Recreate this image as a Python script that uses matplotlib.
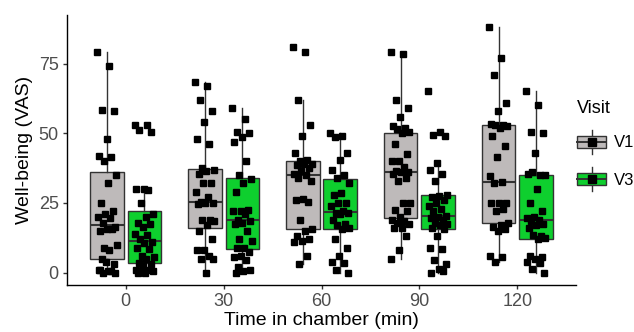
import numpy as np
import matplotlib.pyplot as plt
from matplotlib.legend_handler import HandlerBase
from matplotlib.lines import Line2D
from matplotlib.patches import Rectangle, Patch

plt.rcParams['font.family'] = ['Liberation Sans', 'DejaVu Sans']

times = ['0', '30', '60', '90', '120']
visits = ['V1', 'V3']
fills = {'V1': '#BEBABA', 'V3': '#0ECF2E'}
edge = '#333333'

# well-being scores, one list per time point
v1_t0 = [79, 74, 58.5, 58, 48, 42, 41.5, 40, 35, 32, 25, 22, 21, 20, 19.5, 18,
         16.5, 15.5, 15, 15.5, 9, 10, 8, 5, 3, 4, 1, 0.5, 0, 0, 0.5, 1]
v1_t30 = [68.5, 67, 62, 58, 54, 48, 46, 37.5, 37, 36.5, 35.5, 32, 32, 29, 27, 25.5,
          25, 25, 24.5, 19, 19, 18.5, 17, 15, 12, 8, 8, 6, 5, 5, 0]
v1_t60 = [81, 79, 62, 53, 49, 43, 40.5, 40, 39, 39, 38.5, 37.5, 36.5, 35.5, 35,
          34, 33, 26.5, 26, 25.5, 19, 15.5, 15, 13, 12, 11.5, 11, 6, 3]
v1_t90 = [79, 78.5, 62, 59, 56, 52.5, 52, 51.5, 50.5, 50, 46, 42.5, 40, 40, 38,
          36.5, 36, 36, 35.5, 34, 33, 25, 25, 22.5, 22, 20, 19, 18.5, 18, 17.5,
          16, 16, 13, 8, 5]
v1_t120 = [88, 77, 71, 61, 58, 53.5, 53, 53, 52.5, 52, 49, 45.5, 41.5, 34.5, 32.5,
           32, 25, 25, 25, 23, 22, 18, 17, 16.5, 15.5, 15, 6, 5.5, 4]

v3_t0 = [53, 53, 51, 50.5, 30, 30, 29.5, 25, 21, 20, 18, 17.5, 16.5, 14, 13.5, 12,
         11, 10.5, 9, 8.5, 6, 5.5, 5, 3.5, 3, 2.5, 1, 1, 0.5, 0.5, 0, 0]
v3_t30 = [59, 55, 50.5, 50, 48.5, 47, 40, 35, 33.5, 32, 29, 22.5, 22, 22, 21, 19,
          18.5, 18, 17.5, 15, 12, 11.5, 9, 9, 7.5, 6, 5.5, 4.5, 2, 1, 0.5, 0]
v3_t60 = [50, 49, 48.5, 43, 40.5, 37, 35, 34, 32, 28.5, 28, 25, 25, 24, 22, 21.5,
          21.5, 21, 19, 17.5, 17, 16, 15.5, 12, 9, 6, 4, 3.5, 1, 0]
v3_t90 = [65, 50.5, 49.5, 49, 39.5, 37, 35.5, 33, 28, 27.5, 27, 26, 25, 24, 23,
          22, 20.5, 20, 19.5, 19, 18, 17.5, 17, 16, 15.5, 13, 9, 8.5, 4.5, 3,
          1.5, 0, 0.5]
v3_t120 = [65, 60, 50.5, 50, 43, 35.5, 35, 36, 35, 30, 25, 22, 20, 19.5, 19, 18.5,
           17.5, 17, 16, 13, 13.5, 12.5, 12, 6, 5.5, 5, 4, 3.5, 1.5, 0]

data = {'V1': [v1_t0, v1_t30, v1_t60, v1_t90, v1_t120],
        'V3': [v3_t0, v3_t30, v3_t60, v3_t90, v3_t120]}


class BoxKey(HandlerBase):
    # boxplot-like legend key: whisker, box, median line and a point
    def create_artists(self, legend, orig_handle, xdescent, ydescent,
                       width, height, fontsize, trans):
        x0, y0 = -xdescent, -ydescent
        cx, cy = x0 + width / 2, y0 + height / 2
        whisker = Line2D([cx, cx], [y0, y0 + height], color=edge, lw=1.0, transform=trans)
        box = Rectangle((x0, y0 + 0.25 * height), width, 0.5 * height,
                        facecolor=orig_handle.get_facecolor(), edgecolor=edge,
                        lw=1.0, transform=trans)
        med = Line2D([x0, x0 + width], [cy, cy], color=edge, lw=1.4, transform=trans)
        pt = Line2D([cx], [cy], marker='s', color='black', ms=5.3, transform=trans)
        return [whisker, box, med, pt]


fig = plt.figure(figsize=(6.34, 3.32), dpi=100)
ax = fig.add_axes([67 / 634, 47 / 332, 509 / 634, 270 / 332])

offset = 0.19
for k, visit in enumerate(visits):
    pos = np.arange(1, len(times) + 1) + (2 * k - 1) * offset
    ax.boxplot(data[visit], positions=pos, widths=0.34, patch_artist=True,
               showfliers=False, showcaps=False, manage_ticks=False,
               boxprops=dict(facecolor=fills[visit], edgecolor=edge, linewidth=1.0),
               medianprops=dict(color=edge, linewidth=1.5),
               whiskerprops=dict(color=edge, linewidth=1.0), zorder=2)
    for p, vals in zip(pos, data[visit]):
        jit = ((np.arange(len(vals)) * 0.618034) % 1 - 0.5) * 0.2
        ax.plot(p + jit, vals, 's', color='black', ms=4.8, ls='none', zorder=3)

ax.set_xlim(0.4, 5.6)
ax.set_ylim(-4.4, 92.4)
ax.set_xticks(np.arange(1, len(times) + 1))
ax.set_xticklabels(times)
ax.set_yticks([0, 25, 50, 75])
for s in ['top', 'right']:
    ax.spines[s].set_visible(False)
for s in ['left', 'bottom']:
    ax.spines[s].set_linewidth(1.0)
    ax.spines[s].set_color('black')
ax.tick_params(length=3, width=1.0, color=edge, labelcolor='#4D4D4D', labelsize=13, pad=3)
ax.set_xlabel('Time in chamber (min)', fontsize=14, labelpad=1)
ax.set_ylabel('Well-being (VAS)', fontsize=14, labelpad=4)

handles = [Patch(facecolor=fills[v]) for v in visits]
leg = fig.legend(handles, visits, handler_map={Patch: BoxKey()}, title='Visit',
                 loc='upper left', bbox_to_anchor=(577 / 634, 1 - 100 / 332),
                 frameon=False, fontsize=12, title_fontsize=13,
                 handlelength=1.75, handleheight=1.86, handletextpad=0.45,
                 labelspacing=0.78, borderpad=0, borderaxespad=0, alignment='left')

fig.savefig('out.png', dpi=100)
